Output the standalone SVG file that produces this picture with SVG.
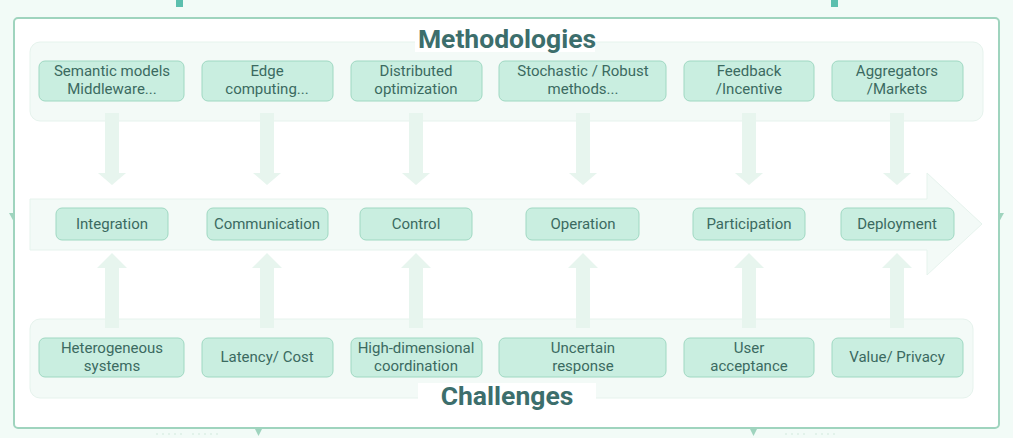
<svg xmlns="http://www.w3.org/2000/svg" width="1013" height="438" viewBox="0 0 1013 438">
<defs>
<style>
.bg{fill:#f2fbf7}
.frame{fill:#ffffff;stroke:#9fd4be;stroke-width:2}
.band{fill:#f3faf7;stroke:#e6f3ed;stroke-width:1}
.box{fill:#c9eee0;stroke:#9fd8c2;stroke-width:1}
.lbl{font-family:Roboto,"Liberation Sans",sans-serif;font-size:15px;fill:#3b6a60;text-anchor:middle}
.title{font-family:Roboto,"Liberation Sans",sans-serif;font-size:26.5px;font-weight:bold;fill:#3c6e6c;text-anchor:middle}
.arr{fill:#e7f5ee}
.mark{fill:#5cbfae}
.tri{fill:#9fd4be}
.dot{fill:#dcefe6}
</style>
<g id="down"><path d="M-7,0 H7 V60 H14 L0,72 L-14,60 H-7 Z"/></g>
<g id="up"><path d="M0,0 L15,15 H7 V75 H-7 V15 H-15 Z"/></g>
</defs>
<rect class="bg" x="0" y="0" width="1013" height="438"/>
<rect class="mark" x="176" y="0" width="7" height="7"/>
<rect class="mark" x="831" y="0" width="7" height="7"/>
<path class="tri" d="M9,213 L14,213 L14,222 Z"/>
<path class="tri" d="M999,213 L1004,213 L999,222 Z"/>
<path class="tri" d="M255,429 L262,429 L258.5,436 Z"/>
<path class="tri" d="M750,429 L757,429 L753.5,436 Z"/>
<g class="dot">
<circle cx="157" cy="434" r="1"/><circle cx="163" cy="434" r="1"/><circle cx="169" cy="434" r="1"/><circle cx="175" cy="434" r="1"/><circle cx="181" cy="434" r="1"/><circle cx="193" cy="434" r="1"/><circle cx="199" cy="434" r="1"/><circle cx="205" cy="434" r="1"/><circle cx="211" cy="434" r="1"/><circle cx="217" cy="434" r="1"/>
<circle cx="786" cy="434" r="1"/><circle cx="792" cy="434" r="1"/><circle cx="798" cy="434" r="1"/><circle cx="804" cy="434" r="1"/><circle cx="816" cy="434" r="1"/><circle cx="822" cy="434" r="1"/><circle cx="828" cy="434" r="1"/><circle cx="834" cy="434" r="1"/>
</g>
<rect class="frame" x="14" y="18" width="985" height="410" rx="4"/>

<g id="methodologies-band">
<rect class="band" x="30" y="42" width="953" height="79" rx="10"/>
<rect x="415" y="27" width="180" height="25" fill="#ffffff"/>
<text class="title" x="507" y="48">Methodologies</text>
</g>
<g id="challenges-band">
<rect class="band" x="30" y="319" width="943" height="79" rx="10"/>
<rect x="418" y="383" width="178" height="27" fill="#ffffff"/>
<text class="title" x="507" y="405">Challenges</text>
</g>
<g id="flow-arrow">
<path class="band" d="M30,199 H927 V173 L982,224 L927,275 V250 H30 Z"/>
</g>

<g id="connectors" class="arr">
<use href="#down" x="112" y="113"/>
<use href="#down" x="267" y="113"/>
<use href="#down" x="416" y="113"/>
<use href="#down" x="583" y="113"/>
<use href="#down" x="749" y="113"/>
<use href="#down" x="897" y="113"/>
<use href="#up" x="112" y="253"/>
<use href="#up" x="267" y="253"/>
<use href="#up" x="416" y="253"/>
<use href="#up" x="583" y="253"/>
<use href="#up" x="749" y="253"/>
<use href="#up" x="897" y="253"/>
</g>

<g id="m1"><rect class="box" x="39" y="61" width="145" height="40" rx="6"/><text class="lbl" x="112" y="76">Semantic models</text><text class="lbl" x="112" y="94">Middleware...</text></g>
<g id="m2"><rect class="box" x="202" y="61" width="131" height="40" rx="6"/><text class="lbl" x="267" y="76">Edge</text><text class="lbl" x="267" y="94">computing...</text></g>
<g id="m3"><rect class="box" x="351" y="61" width="131" height="40" rx="6"/><text class="lbl" x="416" y="76">Distributed</text><text class="lbl" x="416" y="94">optimization</text></g>
<g id="m4"><rect class="box" x="499" y="61" width="167" height="40" rx="6"/><text class="lbl" x="583" y="76">Stochastic / Robust</text><text class="lbl" x="583" y="94">methods...</text></g>
<g id="m5"><rect class="box" x="684" y="61" width="130" height="40" rx="6"/><text class="lbl" x="749" y="76">Feedback</text><text class="lbl" x="749" y="94">/Incentive</text></g>
<g id="m6"><rect class="box" x="832" y="61" width="131" height="40" rx="6"/><text class="lbl" x="897" y="76">Aggregators</text><text class="lbl" x="897" y="94">/Markets</text></g>

<g id="s1"><rect class="box" x="56" y="208" width="112" height="32" rx="6"/><text class="lbl" x="112" y="229">Integration</text></g>
<g id="s2"><rect class="box" x="207" y="208" width="121" height="32" rx="6"/><text class="lbl" x="267" y="229">Communication</text></g>
<g id="s3"><rect class="box" x="360" y="208" width="112" height="32" rx="6"/><text class="lbl" x="416" y="229">Control</text></g>
<g id="s4"><rect class="box" x="526" y="208" width="113" height="32" rx="6"/><text class="lbl" x="583" y="229">Operation</text></g>
<g id="s5"><rect class="box" x="693" y="208" width="112" height="32" rx="6"/><text class="lbl" x="749" y="229">Participation</text></g>
<g id="s6"><rect class="box" x="841" y="208" width="113" height="32" rx="6"/><text class="lbl" x="897" y="229">Deployment</text></g>

<g id="c1"><rect class="box" x="39" y="338" width="145" height="39" rx="6"/><text class="lbl" x="112" y="353">Heterogeneous</text><text class="lbl" x="112" y="371">systems</text></g>
<g id="c2"><rect class="box" x="202" y="338" width="131" height="39" rx="6"/><text class="lbl" x="267" y="362">Latency/ Cost</text></g>
<g id="c3"><rect class="box" x="351" y="338" width="131" height="39" rx="6"/><text class="lbl" x="416" y="353">High-dimensional</text><text class="lbl" x="416" y="371">coordination</text></g>
<g id="c4"><rect class="box" x="499" y="338" width="167" height="39" rx="6"/><text class="lbl" x="583" y="353">Uncertain</text><text class="lbl" x="583" y="371">response</text></g>
<g id="c5"><rect class="box" x="684" y="338" width="130" height="39" rx="6"/><text class="lbl" x="749" y="353">User</text><text class="lbl" x="749" y="371">acceptance</text></g>
<g id="c6"><rect class="box" x="832" y="338" width="131" height="39" rx="6"/><text class="lbl" x="897" y="362">Value/ Privacy</text></g>
</svg>
